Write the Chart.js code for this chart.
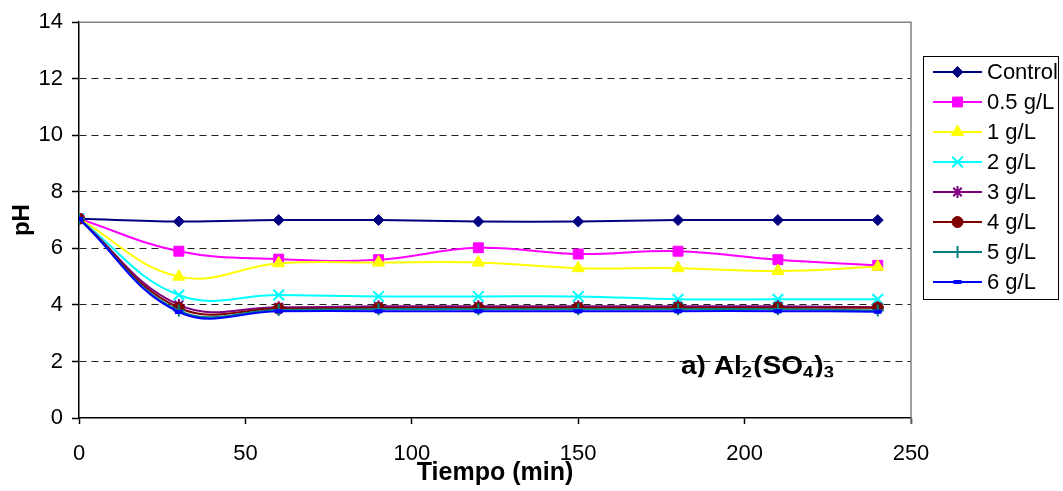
<!DOCTYPE html>
<html>
<head>
<meta charset="utf-8">
<script src="https://cdn.jsdelivr.net/npm/chart.js@4.4.0/dist/chart.umd.min.js"></script>
<style>
  html, body { margin: 0; padding: 0; background: #fff; }
  #wrap { width: 1063px; height: 491px; }
</style>
</head>
<body>
<div id="wrap"><canvas id="myChart"></canvas></div>
<script>
// tiempo (min) y pH por dosis de Al2(SO4)3
const tiempo = [0, 30, 60, 90, 120, 150, 180, 210, 240];
const control = [7.05, 6.95, 7.0, 7.0, 6.95, 6.95, 7.0, 7.0, 7.0];
const dosis05 = [7.05, 5.9, 5.62, 5.6, 6.02, 5.8, 5.9, 5.6, 5.4];
const dosis1 = [7.05, 5.0, 5.47, 5.5, 5.5, 5.3, 5.3, 5.2, 5.35];
const dosis2 = [7.05, 4.35, 4.35, 4.3, 4.3, 4.3, 4.2, 4.2, 4.2];
const dosis3 = [7.05, 4.0, 3.92, 3.95, 3.95, 3.95, 3.95, 3.95, 3.92];
const dosis4 = [7.05, 3.9, 3.87, 3.9, 3.9, 3.9, 3.9, 3.9, 3.9];
const dosis5 = [7.05, 3.8, 3.82, 3.85, 3.85, 3.85, 3.85, 3.85, 3.8];
const dosis6 = [7.05, 3.75, 3.78, 3.78, 3.78, 3.78, 3.78, 3.78, 3.76];
const xTicks = [0, 50, 100, 150, 200, 250];
const yTicks = [0, 2, 4, 6, 8, 10, 12, 14];

const FONT = "'Liberation Sans', Arial, sans-serif";
Chart.defaults.font.family = FONT;
Chart.defaults.font.size = 22;
Chart.defaults.color = '#000';

const series = [
    { label: 'Control', data: control, color: '#000080', style: 'rectRot', r: 5.5, bw: 1 },
    { label: '0.5 g/L', data: dosis05, color: '#FF00FF', style: 'rect', r: 7, bw: 1 },
    { label: '1 g/L', data: dosis1, color: '#FFFF00', style: 'triangle', r: 7, bw: 1 },
    { label: '2 g/L', data: dosis2, color: '#00FFFF', style: 'crossRot', r: 7.5, bw: 2 },
    { label: '3 g/L', data: dosis3, color: '#800080', style: 'star', r: 6, bw: 2 },
    { label: '4 g/L', data: dosis4, color: '#800000', style: 'circle', r: 5.5, bw: 1 },
    { label: '5 g/L', data: dosis5, color: '#008080', style: 'cross', r: 6, bw: 2 },
    { label: '6 g/L', data: dosis6, color: '#0000FF', style: 'line', r: 4, bw: 4 }
];

const datasets = series.map((s, i) => ({
    label: s.label,
    data: tiempo.map((t, k) => ({ x: t, y: s.data[k] })),
    borderColor: s.color,
    backgroundColor: s.color,
    borderWidth: 2,
    tension: 0.4,
    pointStyle: s.style,
    pointRadius: s.r,
    pointBorderWidth: s.bw,
    pointBackgroundColor: s.color,
    pointBorderColor: s.color,
    order: series.length - i
}));

// marco gris del área de trazado (arriba y derecha)
const frame = {
    id: 'frame',
    beforeDatasetsDraw(chart) {
        const { ctx, chartArea: a } = chart;
        ctx.save();
        ctx.strokeStyle = '#808080';
        ctx.lineWidth = 1.5;
        ctx.beginPath();
        ctx.moveTo(a.left, a.top);
        ctx.lineTo(a.right, a.top);
        ctx.lineTo(a.right, a.bottom + 6);
        ctx.stroke();
        ctx.restore();
    }
};

// leyenda con línea + marcador, y rótulo a) Al2(SO4)3
const extras = {
    id: 'extras',
    afterDraw(chart) {
        const { ctx, chartArea: a } = chart;
        ctx.save();
        const bx = a.right + 12, by = 56, bw = 135, bh = 243;
        ctx.fillStyle = '#fff';
        ctx.fillRect(bx, by, bw, bh);
        ctx.strokeStyle = '#000';
        ctx.lineWidth = 1;
        ctx.strokeRect(bx + 0.5, by + 0.5, bw, bh);
        series.forEach((s, i) => {
            const y = by + 16 + i * 30;
            ctx.strokeStyle = s.color;
            ctx.lineWidth = 2;
            ctx.beginPath();
            ctx.moveTo(bx + 10, y);
            ctx.lineTo(bx + 59, y);
            ctx.stroke();
            ctx.fillStyle = s.color;
            ctx.strokeStyle = s.color;
            ctx.lineWidth = s.bw;
            Chart.helpers.drawPoint(ctx, { pointStyle: s.style, radius: s.r, rotation: 0, borderWidth: s.bw }, bx + 34.5, y);
            ctx.fillStyle = '#000';
            ctx.font = '22px ' + FONT;
            ctx.textBaseline = 'middle';
            ctx.textAlign = 'left';
            ctx.fillText(s.label, bx + 64, y + 1);
        });

        const parts = [['a) Al', 0], ['2', 1], ['(SO', 0], ['4', 1], [')', 0], ['3', 1]];
        const base = a.top + 352;
        ctx.beginPath();
        ctx.rect(a.left, a.top, a.right - a.left, base + 3 - a.top);
        ctx.clip();
        ctx.translate(a.left + 602, base);
        ctx.scale(1.08, 1);
        let cx = 0;
        ctx.fillStyle = '#000';
        ctx.textBaseline = 'alphabetic';
        parts.forEach(([t, sub]) => {
            ctx.font = 'bold ' + (sub ? 17 : 26) + 'px ' + FONT;
            ctx.fillText(t, cx, sub ? 4 : 0);
            cx += ctx.measureText(t).width + (sub ? 1 : 0);
        });
        ctx.restore();
    }
};

new Chart(document.getElementById('myChart'), {
    type: 'line',
    data: { datasets },
    options: {
        responsive: true,
        maintainAspectRatio: false,
        animation: false,
        layout: { padding: { top: 17, right: 152, left: 0, bottom: 0 } },
        plugins: {
            legend: { display: false },
            tooltip: { enabled: false }
        },
        scales: {
            x: {
                type: 'linear',
                min: 0,
                max: 250,
                afterBuildTicks: (scale) => { scale.ticks = xTicks.map(v => ({ value: v })); },
                afterFit: (scale) => { scale.height = 73; },
                ticks: { padding: 17, maxRotation: 0 },
                grid: { drawOnChartArea: false, tickLength: 6, tickColor: '#000', tickWidth: 1.5 },
                border: { color: '#000', width: 1.5 },
                title: {
                    display: true,
                    text: 'Tiempo (min)',
                    font: { size: 25, weight: 'bold' },
                    padding: { top: 0, bottom: 3 }
                }
            },
            y: {
                min: 0,
                max: 14,
                afterBuildTicks: (scale) => { scale.ticks = yTicks.map(v => ({ value: v })); },
                afterFit: (scale) => { scale.width = 79; },
                ticks: { padding: 9 },
                grid: {
                    color: (c) => (c.tick && (c.tick.value === 14 || c.tick.value === 0)) ? 'rgba(0,0,0,0)' : '#222',
                    lineWidth: 1,
                    tickLength: 7,
                    tickColor: '#000',
                    tickWidth: 1.5,
                    tickBorderDash: []
                },
                border: { color: '#000', width: 1.5, dash: [7, 5] },
                title: {
                    display: true,
                    text: 'pH',
                    font: { size: 24, weight: 'bold' },
                    padding: { top: 8, bottom: 0 }
                }
            }
        }
    },
    plugins: [frame, extras]
});
</script>
</body>
</html>
